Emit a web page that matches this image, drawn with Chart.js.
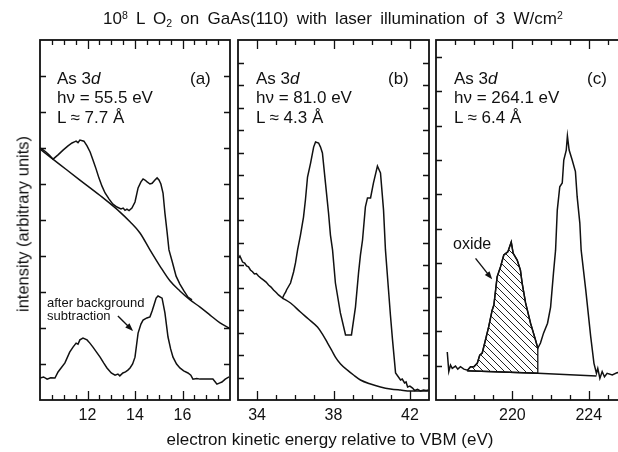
<!DOCTYPE html>
<html>
<head>
<meta charset="utf-8">
<script src="https://cdn.jsdelivr.net/npm/chart.js@4.4.1/dist/chart.umd.min.js"></script>
<style>
    html, body { margin: 0; padding: 0; background: #fff; }
    #fig { position: relative; width: 618px; height: 452px; overflow: hidden; font-family: "Liberation Sans", Arial, sans-serif; color: #111; }
    #fig canvas { position: absolute; left: 0; top: 0; }
    .txt { position: absolute; white-space: nowrap; }
    .up { position: relative; top: -0.45em; font-size: 0.62em; }
    .dn { position: relative; top: 0.3em; font-size: 0.62em; }
    .info { font-size: 17px; line-height: 19.5px; }
</style>
</head>
<body>
<div id="fig">
    <canvas id="panelA" width="640" height="452"></canvas>
    <canvas id="panelB" width="640" height="452"></canvas>
    <canvas id="panelC" width="640" height="452"></canvas>

    <div class="txt" style="left:103px; top:9px; font-size:17px; word-spacing:3.5px;">10<span class="up">8</span> L O<span class="dn">2</span> on GaAs(110) with laser illumination of 3 W/cm<span class="up">2</span></div>
    <div class="txt" style="left:23px; top:224px; font-size:16.5px; transform:translate(-50%,-50%) rotate(-90deg);">intensity (arbitrary units)</div>
    <div class="txt" style="left:330px; top:440px; font-size:17px; transform:translate(-50%,-50%);">electron kinetic energy relative to VBM (eV)</div>

    <div class="txt info" style="left:57px; top:68.5px;">As 3<i>d</i><br>hν = 55.5 eV<br>L ≈ 7.7 Å</div>
    <div class="txt info" style="left:190px; top:68.5px;">(a)</div>
    <div class="txt info" style="left:256px; top:68.5px;">As 3<i>d</i><br>hν = 81.0 eV<br>L ≈ 4.3 Å</div>
    <div class="txt info" style="left:388px; top:68.5px;">(b)</div>
    <div class="txt info" style="left:454px; top:68.5px;">As 3<i>d</i><br>hν = 264.1 eV<br>L ≈ 6.4 Å</div>
    <div class="txt info" style="left:587px; top:68.5px;">(c)</div>

    <div class="txt" style="left:47px; top:296px; font-size:13px; line-height:13px;">after background<br>subtraction</div>
    <div class="txt" style="left:453px; top:236px; font-size:16px; line-height:16px;">oxide</div>
</div>

<script>
// panel (a): As 3d, hv = 55.5 eV  [kinetic energy (eV), intensity]
const aRaw = [
    [10.00, 7.00], [10.13, 6.95], [10.25, 6.89], [10.40, 6.80], [10.55, 6.69], [10.76, 6.81],
    [10.97, 6.94], [11.18, 7.06], [11.35, 7.14], [11.45, 7.17], [11.52, 7.19], [11.60, 7.15],
    [11.68, 7.22], [11.85, 7.19], [11.98, 7.06], [12.11, 6.89], [12.23, 6.67], [12.36, 6.42],
    [12.48, 6.17], [12.61, 5.94], [12.74, 5.75], [12.91, 5.58], [13.07, 5.44], [13.24, 5.36],
    [13.41, 5.31], [13.50, 5.33], [13.58, 5.27], [13.66, 5.30], [13.75, 5.26], [13.87, 5.33],
    [14.00, 5.50], [14.13, 5.89], [14.25, 6.06], [14.34, 6.14], [14.42, 6.11], [14.51, 6.06],
    [14.63, 6.00], [14.72, 6.02], [14.84, 6.11], [14.93, 6.17], [15.01, 6.11], [15.09, 6.00],
    [15.18, 5.75], [15.26, 5.19], [15.35, 4.67], [15.43, 4.17], [15.56, 3.86], [15.73, 3.44],
    [15.89, 3.22], [16.06, 3.03], [16.23, 2.86], [16.40, 2.78]
];
const aBackground = [
    [10.00, 6.97], [10.84, 6.54], [11.68, 6.11], [12.53, 5.68], [13.37, 5.22], [13.79, 4.95],
    [14.21, 4.64], [14.63, 4.17], [15.05, 3.72], [15.47, 3.31], [15.89, 3.03], [16.32, 2.78],
    [16.74, 2.58], [17.16, 2.36], [17.58, 2.14], [17.96, 2.00]
];
const aSubtracted = [
    [10.00, 0.61], [10.15, 0.64], [10.30, 0.58], [10.45, 0.62], [10.63, 0.61], [10.76, 0.78],
    [11.05, 1.03], [11.25, 1.33], [11.39, 1.47], [11.52, 1.58], [11.60, 1.55], [11.68, 1.67],
    [11.81, 1.72], [11.98, 1.67], [12.10, 1.58], [12.23, 1.47], [12.38, 1.33], [12.53, 1.19],
    [12.68, 1.03], [12.82, 0.89], [13.00, 0.75], [13.16, 0.69], [13.28, 0.72], [13.36, 0.67],
    [13.49, 0.75], [13.60, 0.78], [13.70, 0.83], [13.79, 0.89], [13.90, 1.00], [14.00, 1.19],
    [14.13, 1.86], [14.25, 2.11], [14.34, 2.22], [14.50, 2.28], [14.63, 2.31], [14.72, 2.47],
    [14.80, 2.64], [14.89, 2.83], [14.97, 2.89], [15.06, 2.86], [15.14, 2.83], [15.26, 2.42],
    [15.39, 1.75], [15.50, 1.42], [15.60, 1.19], [15.75, 1.00], [15.89, 0.89], [16.05, 0.81],
    [16.23, 0.75], [16.35, 0.69], [16.44, 0.58], [16.60, 0.60], [16.74, 0.58], [17.00, 0.58],
    [17.28, 0.58], [17.38, 0.50], [17.45, 0.44], [17.55, 0.47], [17.66, 0.50], [17.80, 0.58],
    [17.96, 0.64]
];

// panel (b): As 3d, hv = 81.0 eV
const bRaw = [
    [33.03, 6.31], [33.10, 6.40], [33.24, 6.13], [33.35, 6.08], [33.45, 5.96], [33.55, 5.92],
    [33.65, 5.78], [33.76, 5.70], [33.86, 5.60], [33.96, 5.62], [34.07, 5.51], [34.20, 5.42],
    [34.34, 5.33], [34.47, 5.24], [34.60, 5.11], [34.73, 5.02], [34.86, 4.89], [35.00, 4.78],
    [35.12, 4.67], [35.25, 4.58], [35.33, 4.53], [35.43, 4.71], [35.50, 4.80], [35.54, 4.89],
    [35.75, 5.20], [35.91, 5.69], [36.01, 6.09], [36.12, 6.67], [36.27, 7.33], [36.43, 8.13],
    [36.53, 8.89], [36.64, 9.91], [36.80, 10.53], [36.96, 11.24], [37.06, 11.47], [37.22, 11.42],
    [37.32, 11.24], [37.42, 10.98], [37.58, 9.64], [37.74, 8.31], [37.84, 7.33], [37.95, 6.67],
    [38.10, 5.20], [38.36, 3.87], [38.63, 2.89], [38.94, 2.89], [39.15, 4.13], [39.31, 5.64],
    [39.41, 6.44], [39.52, 7.11], [39.67, 8.58], [39.78, 8.98], [39.94, 8.98], [40.09, 9.64],
    [40.30, 10.40], [40.46, 10.09], [40.62, 8.44], [40.72, 6.67], [40.88, 4.89], [40.98, 3.78],
    [41.09, 2.67], [41.25, 1.20], [41.51, 0.89], [41.60, 0.93], [41.72, 0.76], [41.80, 0.80],
    [41.88, 0.58], [42.00, 0.62], [42.14, 0.53], [42.25, 0.42], [42.40, 0.47], [42.55, 0.40],
    [42.72, 0.44], [42.85, 0.42], [42.97, 0.44]
];
const bBackground = [
    [35.33, 4.53], [35.75, 4.31], [36.27, 3.91], [36.69, 3.60], [37.16, 3.24], [37.42, 2.93],
    [37.69, 2.53], [37.90, 2.22], [38.10, 1.91], [38.37, 1.60], [38.73, 1.33], [39.05, 1.11],
    [39.41, 0.89], [39.94, 0.71], [40.46, 0.58], [40.98, 0.49], [41.51, 0.44], [42.03, 0.40],
    [42.97, 0.40]
];

// panel (c): As 3d, hv = 264.1 eV
const cRaw = [
    [216.59, 1.40], [216.67, 0.83], [216.76, 1.02], [216.85, 0.92], [217.02, 0.99], [217.14, 0.90],
    [217.28, 0.97], [217.46, 0.90], [217.65, 0.87], [217.81, 0.97], [217.98, 0.97], [218.16, 1.07],
    [218.29, 1.31], [218.42, 1.37], [218.59, 1.75], [218.76, 2.14], [218.94, 2.62], [219.03, 2.77],
    [219.20, 3.59], [219.38, 3.89], [219.55, 4.23], [219.76, 4.32], [219.94, 4.61], [220.04, 4.28],
    [220.25, 4.08], [220.42, 3.79], [220.51, 3.41], [220.69, 2.83], [220.95, 2.24], [221.21, 1.75],
    [221.33, 1.51], [221.47, 1.66], [221.63, 1.95], [221.84, 2.24], [222.00, 2.71], [222.15, 3.70],
    [222.26, 4.37], [222.35, 5.54], [222.48, 6.22], [222.61, 6.33], [222.69, 7.00], [222.82, 7.29],
    [222.88, 7.70], [222.97, 7.29], [223.13, 7.00], [223.30, 6.66], [223.39, 5.93], [223.53, 5.16],
    [223.60, 4.37], [223.84, 3.21], [224.10, 1.85], [224.27, 1.07], [224.40, 0.78], [224.47, 0.92],
    [224.58, 0.63], [224.70, 0.83], [224.82, 0.68], [224.96, 0.78], [225.23, 0.73], [225.49, 0.80],
    [225.80, 0.75], [226.00, 0.77]
];
const cBaseline = [[217.65, 0.85], [221.33, 0.78], [224.40, 0.70]];
const oxideRange = [217.65, 221.33];

// tick labels
const aLabels = [12, 14, 16];
const bLabels = [34, 38, 42];
const cLabels = [220, 224];

const FONT = '"Liberation Sans", Arial, sans-serif';

// inward ticks on the frame, like the printed figure
const frameTicks = {
    id: 'frameTicks',
    afterDatasetsDraw(chart, args, opts) {
        const { ctx, chartArea: a, scales: { x, y } } = chart;
        ctx.save();
        ctx.strokeStyle = '#111';
        ctx.lineWidth = 1.3;
        ctx.beginPath();
        const nx = Math.round((x.max - x.min) / opts.xStep);
        for (let i = 1; i < nx; i++) {
            const v = x.min + i * opts.xStep;
            const px = Math.round(x.getPixelForValue(v)) + 0.5;
            const len = opts.labels.some(l => Math.abs(l - v) < 1e-6) ? 9 : 5;
            ctx.moveTo(px, a.bottom); ctx.lineTo(px, a.bottom - len);
            ctx.moveTo(px, a.top); ctx.lineTo(px, a.top + len);
        }
        const ny = Math.round((y.max - y.min) / opts.yStep);
        for (let i = 1; i <= ny; i++) {
            const v = y.min + i * opts.yStep;
            if (v >= y.max - 1e-6) continue;
            const py = Math.round(y.getPixelForValue(v)) + 0.5;
            ctx.moveTo(a.left, py); ctx.lineTo(a.left + 6, py);
            ctx.moveTo(a.right, py); ctx.lineTo(a.right - 6, py);
        }
        ctx.stroke();

        ctx.lineWidth = 1.8;
        ctx.strokeRect(a.left, a.top, a.right - a.left, a.bottom - a.top);

        ctx.fillStyle = '#111';
        ctx.font = '16px ' + FONT;
        ctx.textAlign = 'center';
        ctx.textBaseline = 'middle';
        opts.labels.forEach(l => ctx.fillText(String(l), x.getPixelForValue(l), a.bottom + 16));
        ctx.restore();
    }
};

const arrowPlugin = {
    id: 'arrows',
    afterDatasetsDraw(chart, args, opts) {
        const { ctx, scales: { x, y } } = chart;
        (opts.list || []).forEach(arw => {
            const x0 = x.getPixelForValue(arw.from[0]), y0 = y.getPixelForValue(arw.from[1]);
            const x1 = x.getPixelForValue(arw.to[0]), y1 = y.getPixelForValue(arw.to[1]);
            const ang = Math.atan2(y1 - y0, x1 - x0);
            ctx.save();
            ctx.strokeStyle = '#111';
            ctx.fillStyle = '#111';
            ctx.lineWidth = 1.4;
            ctx.beginPath();
            ctx.moveTo(x0, y0);
            ctx.lineTo(x1 - 5 * Math.cos(ang), y1 - 5 * Math.sin(ang));
            ctx.stroke();
            ctx.beginPath();
            ctx.moveTo(x1, y1);
            ctx.lineTo(x1 - 8 * Math.cos(ang) + 3 * Math.sin(ang), y1 - 8 * Math.sin(ang) - 3 * Math.cos(ang));
            ctx.lineTo(x1 - 8 * Math.cos(ang) - 3 * Math.sin(ang), y1 - 8 * Math.sin(ang) + 3 * Math.cos(ang));
            ctx.closePath();
            ctx.fill();
            ctx.restore();
        });
    }
};

function line(points, extra) {
    return Object.assign({
        data: points.map(([x, y]) => ({ x, y })),
        borderColor: '#111',
        borderWidth: 1.5,
        pointRadius: 0,
        tension: 0,
        fill: false
    }, extra || {});
}

function makePanel(id, padLeft, padRight, xRange, yMax, xStep, labels, datasets, arrows) {
    return new Chart(document.getElementById(id), {
        type: 'line',
        data: { datasets },
        options: {
            responsive: false,
            animation: false,
            events: [],
            layout: { padding: { left: padLeft, right: padRight, top: 40, bottom: 52 } },
            scales: {
                x: { type: 'linear', min: xRange[0], max: xRange[1], display: false },
                y: { type: 'linear', min: 0, max: yMax, display: false }
            },
            plugins: {
                legend: { display: false },
                tooltip: { enabled: false },
                frameTicks: { xStep, yStep: 1, labels },
                arrows: { list: arrows }
            }
        },
        plugins: [frameTicks, arrowPlugin]
    });
}

// hatching for the oxide component
const tile = document.createElement('canvas');
tile.width = 7; tile.height = 7;
const tctx = tile.getContext('2d');
tctx.strokeStyle = '#222';
tctx.lineWidth = 1;
tctx.beginPath(); tctx.moveTo(-1, -1); tctx.lineTo(8, 8); tctx.stroke();
const hatch = tctx.createPattern(tile, 'repeat');

// closed outline: curve over the oxide range, down to the baseline, back along it
const baseAt = e => {
    for (let i = 1; i < cBaseline.length; i++) {
        const [x0, y0] = cBaseline[i - 1], [x1, y1] = cBaseline[i];
        if (e <= x1) return y0 + (y1 - y0) * (e - x0) / (x1 - x0);
    }
    return cBaseline[cBaseline.length - 1][1];
};
const oxideTop = cRaw.filter(p => p[0] >= oxideRange[0] && p[0] <= oxideRange[1]);
const cOxide = oxideTop.concat([
    [oxideRange[1], baseAt(oxideRange[1])],
    [oxideRange[0], baseAt(oxideRange[0])],
    oxideTop[0]
]);

makePanel('panelA', 40, 410, [10, 18], 10, 0.5, aLabels, [
    line(aRaw),
    line(aBackground, { cubicInterpolationMode: 'monotone' }),
    line(aSubtracted)
], [{ from: [13.28, 2.33], to: [13.92, 1.92] }]);

makePanel('panelB', 238, 211, [33, 43], 16, 1, bLabels, [
    line(bRaw),
    line(bBackground, { cubicInterpolationMode: 'monotone' })
]);

makePanel('panelC', 436, 13, [216, 226], 10.5, 1, cLabels, [
    line(cOxide, { fill: 'shape', backgroundColor: hatch, borderWidth: 1.3 }),
    line(cRaw),
    line(cBaseline)
], [{ from: [218.07, 4.13], to: [218.94, 3.52] }]);
</script>
</body>
</html>
